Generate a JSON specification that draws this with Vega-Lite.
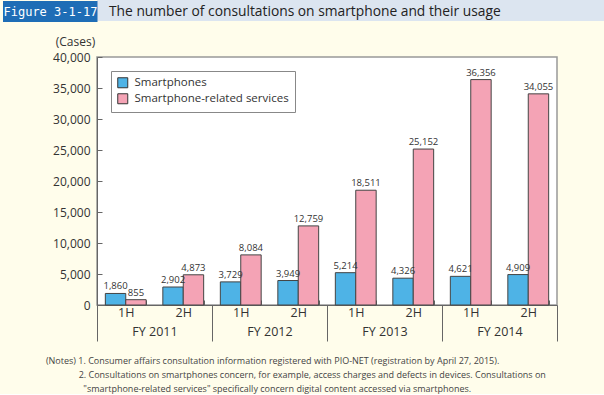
{
  "$schema": "https://vega.github.io/schema/vega-lite/v6.json",
  "background": "#FFFDEB",
  "padding": 0,
  "columns": 1,
  "align": "none",
  "spacing": 12,
  "resolve": {"scale": {"color": "independent"}, "legend": {"color": "independent"}},
  "config": {
    "font": "Open Sans",
    "axis": {"labelColor": "#333", "titleColor": "#333", "domainColor": "#666", "tickColor": "#666", "grid": false, "titleFontWeight": "normal"},
    "legend": {"labelColor": "#333"}
  },
  "concat": [
    {
      "width": 508, "height": 21,
      "view": {"fill": "#DCE5F0", "stroke": null},
      "data": {"values": [
        {"fig": "\u200b"},
        {"fig": "\u200b\u200b"},
        {"fig": "\u200b\u200b\u200b"},
        {"fig": "Figure 3-1-17", "t": "The number of consultations on smartphone and their usage"},
        {"fig": "\u200b\u200b\u200b\u200b"},
        {"fig": "\u200b\u200b\u200b\u200b\u200b"},
        {"fig": "\u200b\u200b\u200b\u200b\u200b\u200b"}
      ]},
      "encoding": {
        "y": {"field": "fig", "type": "nominal", "sort": null, "scale": {"paddingInner": 0, "paddingOuter": 0},
          "axis": {"title": null, "domain": false, "tickSize": 94.5, "tickWidth": 3, "tickColor": "#1E6DB6", "tickCap": "butt",
            "labelAlign": "left", "labelPadding": -0.5, "labelFont": "DejaVu Sans Mono", "labelColor": "white", "labelBaseline": "middle", "labelOffset": 1,
            "labelFontSize": {"condition": {"test": "length(datum.value) > 6", "value": 12}, "value": 0}}}
      },
      "layer": [
        {"mark": {"type": "point", "opacity": 0, "size": 0, "strokeWidth": 0}},
        {
          "transform": [{"filter": "isValid(datum.t)"}],
          "mark": {"type": "text", "fontSize": 13.8, "color": "#222", "align": "left", "baseline": "middle", "dx": -242, "dy": 1},
          "encoding": {"text": {"field": "t"}}
        }
      ]
    },
    {
      "width": 460, "height": 248,
      "view": {"fill": "white", "stroke": "#999", "strokeWidth": 1.5},
      "data": {"values": [
        {"fy": "FY 2011", "period": "FY 2011 1H", "series": "Smartphones", "value": 1860},
        {"fy": "FY 2011", "period": "FY 2011 1H", "series": "Smartphone-related services", "value": 855},
        {"fy": "FY 2011", "period": "FY 2011 2H", "series": "Smartphones", "value": 2902},
        {"fy": "FY 2011", "period": "FY 2011 2H", "series": "Smartphone-related services", "value": 4873},
        {"fy": "FY 2012", "period": "FY 2012 1H", "series": "Smartphones", "value": 3729},
        {"fy": "FY 2012", "period": "FY 2012 1H", "series": "Smartphone-related services", "value": 8084},
        {"fy": "FY 2012", "period": "FY 2012 2H", "series": "Smartphones", "value": 3949},
        {"fy": "FY 2012", "period": "FY 2012 2H", "series": "Smartphone-related services", "value": 12759},
        {"fy": "FY 2013", "period": "FY 2013 1H", "series": "Smartphones", "value": 5214},
        {"fy": "FY 2013", "period": "FY 2013 1H", "series": "Smartphone-related services", "value": 18511},
        {"fy": "FY 2013", "period": "FY 2013 2H", "series": "Smartphones", "value": 4326},
        {"fy": "FY 2013", "period": "FY 2013 2H", "series": "Smartphone-related services", "value": 25152},
        {"fy": "FY 2014", "period": "FY 2014 1H", "series": "Smartphones", "value": 4621},
        {"fy": "FY 2014", "period": "FY 2014 1H", "series": "Smartphone-related services", "value": 36356},
        {"fy": "FY 2014", "period": "FY 2014 2H", "series": "Smartphones", "value": 4909},
        {"fy": "FY 2014", "period": "FY 2014 2H", "series": "Smartphone-related services", "value": 34055}
      ]},
      "encoding": {
        "y": {"field": "value", "type": "quantitative", "scale": {"domain": [0, 40000], "nice": false},
          "axis": {"title": "(Cases)", "titleAngle": 0, "titleX": -22, "titleY": -9, "titleAlign": "center", "titleBaseline": "bottom", "titleFontSize": 12,
            "values": [0, 5000, 10000, 15000, 20000, 25000, 30000, 35000, 40000], "format": ",d", "labelFontSize": 12, "tickSize": -5, "labelPadding": 12, "labelOverlap": false}}
      },
      "resolve": {"scale": {"x": "independent"}},
      "layer": [
        {
          "encoding": {
            "x": {"field": "period", "type": "nominal", "sort": null,
              "scale": {"paddingInner": 0.29, "paddingOuter": 0.145},
              "axis": {"orient": "bottom", "title": null, "labelExpr": "datum.value ? substring(datum.value, 8) : ''", "labelAngle": 0, "tickBand": "extent", "tickSize": -5, "labelPadding": 6, "labelFontSize": 12.5, "labelBaseline": "top"}},
            "xOffset": {"field": "series", "type": "nominal", "sort": ["Smartphones", "Smartphone-related services"]}
          },
          "layer": [
            {
              "mark": {"type": "bar", "stroke": "#444", "strokeWidth": 1},
              "encoding": {
                "color": {"field": "series", "type": "nominal", "sort": ["Smartphones", "Smartphone-related services"],
                  "scale": {"domain": ["Smartphones", "Smartphone-related services"], "range": ["#4EB3E6", "#F4A3B5"]},
                  "legend": {"title": null, "orient": "top-left", "offset": 14, "symbolType": "square", "symbolSize": 100, "symbolStrokeColor": "#333", "symbolStrokeWidth": 1, "symbolOpacity": 1, "labelFontSize": 11.5, "labelOffset": 6, "strokeColor": "#888", "fillColor": "white", "padding": 6, "rowPadding": 1}}
              }
            },
            {
              "mark": {"type": "text", "baseline": "alphabetic", "dy": -4, "fontSize": 9.5, "color": "#333"},
              "encoding": {"text": {"field": "value", "type": "quantitative", "format": ",d"}}
            }
          ]
        },
        {
          "mark": {"type": "point", "opacity": 0, "size": 0, "strokeWidth": 0},
          "encoding": {
            "x": {"field": "fy", "type": "nominal", "sort": null,
              "scale": {"paddingInner": 0, "paddingOuter": 0},
              "axis": {"orient": "bottom", "labelAngle": 0, "tickBand": "extent", "tickSize": 36, "labelPadding": -16, "labelBaseline": "top", "domain": false, "labelFontSize": 12.5,
                "title": [
                  "\u200b\u00a0\u00a0\u00a0\u00a0\u00a0\u00a0\u00a0\u00a0\u00a0\u00a0\u00a0\u00a0\u00a0\u00a0\u00a0\u00a0\u00a0\u00a0\u00a0(Notes) 1. Consumer affairs consultation information registered with PIO-NET (registration by April 27, 2015).",
                  "\u200b\u00a0\u00a0\u00a0\u00a0\u00a0\u00a0\u00a0\u00a0\u00a0\u00a0\u00a0\u00a0\u00a0\u00a0\u00a0\u00a0\u00a0\u00a0\u00a0\u00a0\u00a0\u00a0\u00a0\u00a0\u00a0\u00a0\u00a0\u00a0\u00a0\u00a0\u00a0\u00a0\u00a02. Consultations on smartphones concern, for example, access charges and defects in devices. Consultations on",
                  "\u200b\u00a0\u00a0\u00a0\u00a0\u00a0\u00a0\u00a0\u00a0\u00a0\u00a0\u00a0\u00a0\u00a0\u00a0\u00a0\u00a0\u00a0\u00a0\u00a0\u00a0\u00a0\u00a0\u00a0\u00a0\u00a0\u00a0\u00a0\u00a0\u00a0\u00a0\u00a0\u00a0\u00a0\u00a0\u00a0\"smartphone-related services\" specifically concern digital content accessed via smartphones."
                ],
                "titleX": -96, "titleY": 51, "titleAnchor": "start", "titleAlign": "left", "titleBaseline": "top", "titleFontSize": 9, "titleLineHeight": 14, "titleColor": "#444"}}
          }
        }
      ]
    }
  ]
}
